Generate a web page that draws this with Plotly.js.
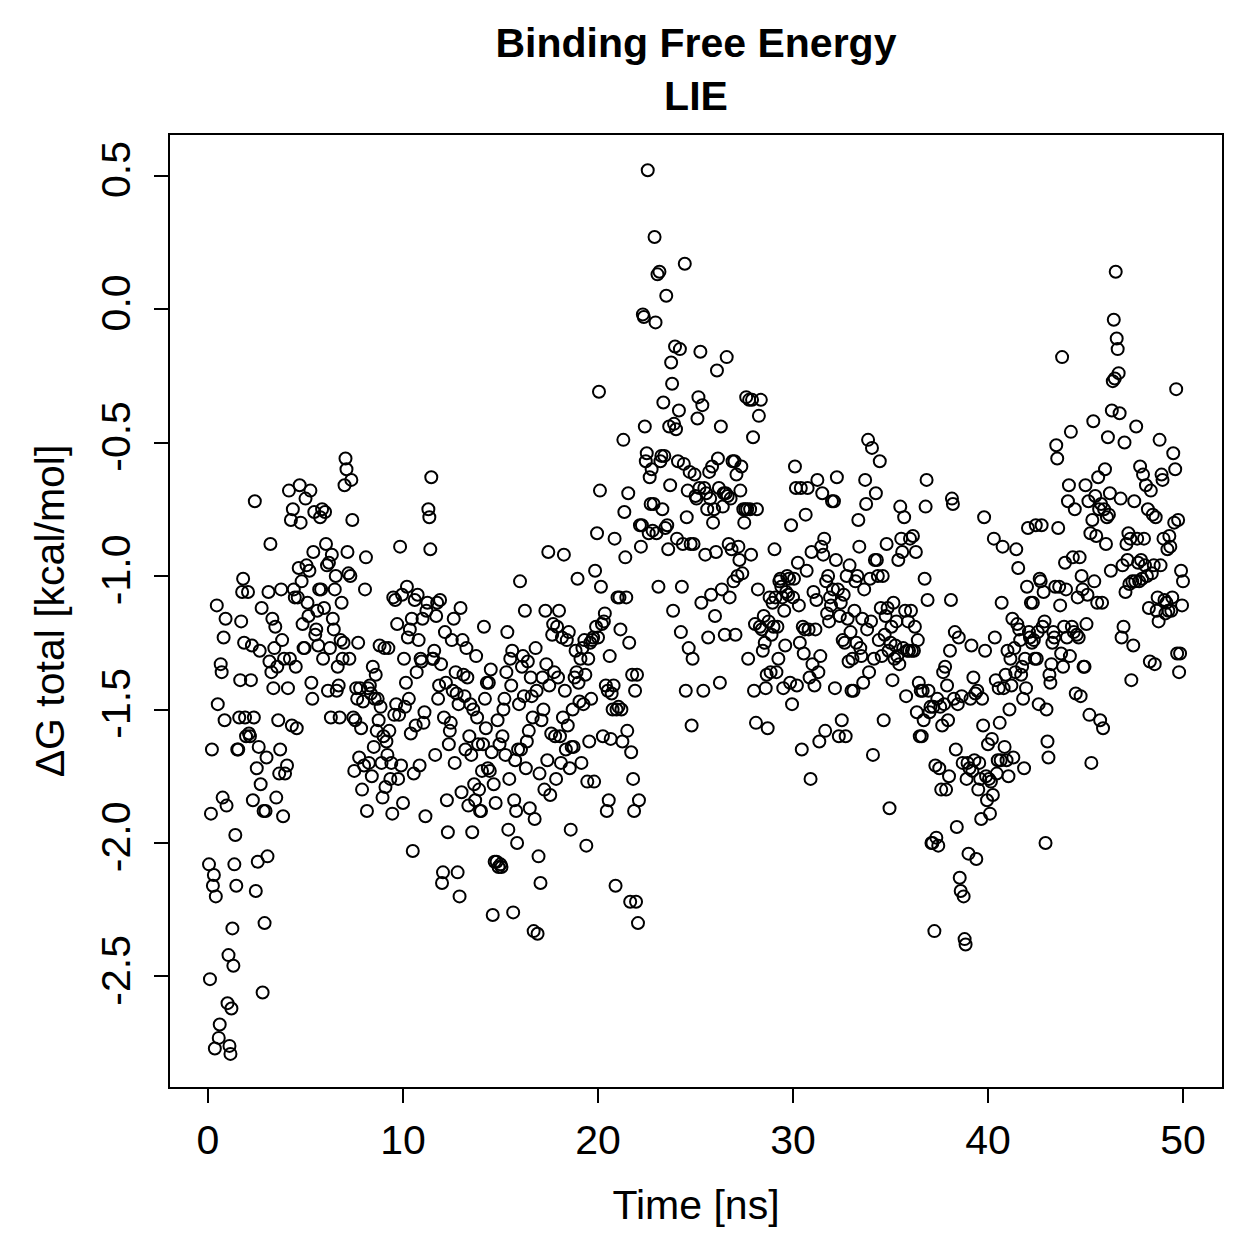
<!DOCTYPE html>
<html>
<head>
<meta charset="utf-8">
<script src="https://cdn.plot.ly/plotly-3.0.1.min.js"></script>
<style>
  html, body { margin: 0; padding: 0; background: #fff; }
  #chart { width: 1259px; height: 1259px; }
</style>
</head>
<body>
<div id="chart"></div>
<script>
// LIE binding free energy (kcal/mol) sampled every 0.05 ns, grouped in 2 ns windows
const dg_00_02 = [-2.08,-2.51,-1.89,-1.65,-2.16,-2.12,-2.77,-2.20,-1.11,-1.48,-2.73,-2.68,-1.33,-1.36,-1.83,-1.23,-1.54,-1.16,-1.86,-2.60,-2.42,-2.76,-2.79,-2.62,-2.32,-2.46,-2.08,-1.97,-2.16,-1.65,-1.65,-1.53,-1.39,-1.17,-1.06,-1.01,-1.25,-1.53,-1.60];
const dg_02_04 = [-1.06,-1.59,-1.60,-1.39,-1.26,-1.84,-1.53,-0.72,-2.18,-1.72,-2.07,-1.64,-1.28,-1.78,-1.12,-2.56,-1.88,-2.30,-1.88,-1.68,-2.05,-1.06,-1.32,-0.88,-1.36,-1.16,-1.42,-1.27,-1.19,-1.83,-1.34,-1.54,-1.74,-1.65,-1.05,-1.24,-1.90,-1.31,-1.74];
const dg_04_06 = [-1.71,-1.42,-0.68,-1.31,-0.79,-1.56,-0.75,-1.05,-1.08,-1.34,-1.57,-1.08,-0.97,-0.66,-0.80,-1.02,-1.18,-1.27,-1.27,-0.71,-0.96,-1.10,-1.15,-0.98,-0.68,-1.40,-1.46,-0.91,-0.76,-1.22,-1.20,-1.13,-1.26,-1.05,-0.78,-1.05,-0.75,-1.31,-1.12,-0.76];
const dg_06_08 = [-0.88,-0.96,-1.43,-0.95,-1.27,-1.53,-0.92,-1.16,-1.20,-1.05,-1.00,-1.43,-1.34,-1.41,-1.53,-1.24,-1.10,-1.31,-1.25,-0.66,-0.56,-0.60,-0.91,-0.99,-1.31,-1.00,-0.64,-0.79,-1.53,-1.73,-1.54,-1.42,-1.46,-1.25,-1.68,-1.42,-1.57,-1.80,-1.47,-1.71];
const dg_08_10 = [-1.05,-0.93,-1.88,-1.42,-1.70,-1.41,-1.44,-1.75,-1.34,-1.64,-1.46,-1.37,-1.58,-1.46,-1.54,-1.26,-1.49,-1.70,-1.83,-1.60,-1.27,-1.79,-1.62,-1.67,-1.27,-1.58,-1.76,-1.70,-1.89,-1.08,-1.52,-1.09,-1.48,-1.18,-1.76,-1.52,-0.89,-1.71,-1.07,-1.85];
const dg_10_12 = [-1.31,-1.49,-1.40,-1.04,-1.23,-1.46,-1.20,-1.59,-1.16,-2.03,-1.74,-1.09,-1.56,-1.36,-1.07,-1.24,-1.71,-1.31,-1.32,-1.16,-1.55,-1.51,-1.90,-1.13,-1.10,-0.75,-0.78,-0.90,-0.63,-1.31,-1.31,-1.28,-1.67,-1.15,-1.10,-1.46,-1.41,-1.09,-1.33,-2.15];
const dg_12_14 = [-2.11,-1.53,-1.21,-1.40,-1.84,-1.96,-1.63,-1.58,-1.55,-1.24,-1.43,-1.16,-1.70,-1.36,-1.44,-2.11,-1.48,-2.20,-1.12,-1.81,-1.24,-1.37,-1.45,-1.65,-1.27,-1.38,-1.86,-1.60,-1.48,-1.67,-1.96,-1.50,-1.78,-1.84,-1.30,-1.53,-1.63,-1.80,-1.88,-1.88];
const dg_14_16 = [-1.73,-1.63,-1.19,-1.46,-1.57,-1.40,-1.72,-1.40,-1.73,-1.35,-1.66,-2.27,-1.78,-2.07,-1.85,-2.07,-1.54,-2.09,-1.63,-2.08,-2.09,-1.60,-1.50,-1.46,-1.67,-1.36,-1.21,-1.95,-1.76,-1.31,-1.41,-1.28,-2.26,-1.84,-1.69,-1.88,-2.00,-1.65,-1.48,-1.02];
const dg_16_18 = [-1.65,-1.34,-1.30,-1.45,-1.13,-1.72,-1.62,-1.32,-1.58,-1.87,-1.38,-1.45,-1.53,-2.33,-1.91,-1.27,-1.43,-2.34,-2.05,-1.74,-2.15,-1.54,-1.38,-1.50,-1.80,-1.13,-1.33,-1.69,-0.91,-1.41,-1.82,-1.59,-1.22,-1.18,-1.36,-1.60,-1.76,-1.19,-1.38,-1.13];
const dg_18_20 = [-1.60,-1.70,-1.23,-1.53,-0.92,-1.43,-1.65,-1.24,-1.56,-1.21,-1.72,-1.95,-1.64,-1.50,-1.64,-1.38,-1.28,-1.36,-1.01,-1.40,-1.47,-1.31,-1.70,-1.27,-1.48,-1.24,-1.37,-2.01,-1.77,-1.31,-1.62,-1.25,-1.46,-1.24,-1.23,-1.77,-0.98,-1.19,-0.84,-1.23];
const dg_20_22 = [-0.31,-0.68,-1.04,-1.18,-1.60,-1.17,-1.14,-1.41,-1.88,-1.43,-1.84,-1.30,-1.61,-1.44,-1.50,-1.41,-0.86,-2.16,-1.50,-1.08,-1.49,-1.08,-1.20,-1.50,-1.62,-0.49,-0.76,-0.93,-1.08,-1.58,-0.69,-1.25,-2.22,-1.66,-1.37,-1.76,-1.88,-1.43,-2.22,-1.37];
const dg_22_24 = [-2.30,-1.84,-0.81,-0.89,-0.81,-0.02,-0.03,-0.44,-0.57,-0.54,0.52,-0.84,-0.63,-0.73,-0.60,-0.83,-0.73,0.27,-0.05,-0.84,0.13,-1.04,0.14,-0.57,-0.55,-0.75,-0.35,-0.55,-0.82,0.05,-0.81,-0.90,-0.44,-0.66,-0.20,-0.28,-1.13,-0.43,-0.14,-0.45];
const dg_24_26 = [-0.86,-0.57,-0.38,-0.15,-1.21,-1.04,-0.88,-0.58,0.17,-1.43,-0.78,-0.68,-1.27,-0.61,-0.88,-1.56,-1.31,-0.88,-0.62,-0.70,-0.71,-0.41,-0.33,-0.67,-0.16,-1.10,-0.36,-1.43,-0.67,-0.92,-0.69,-0.75,-1.23,-0.61,-0.71,-1.07,-0.59,-0.80,-0.75,-1.15];
const dg_26_28 = [-0.91,-0.23,-0.56,-0.67,-1.40,-0.44,-1.05,-0.74,-0.69,-1.22,-0.69,-0.18,-0.70,-0.88,-1.08,-0.71,-0.90,-0.57,-1.02,-0.57,-1.22,-0.62,-1.00,-0.89,-0.94,-0.68,-0.59,-0.99,-0.75,-0.80,-0.75,-0.33,-0.75,-1.31,-0.34,-0.75,-0.92,-0.34,-0.48,-1.43];
const dg_28_30 = [-1.18,-1.55,-0.75,-1.05,-0.40,-1.19,-0.34,-1.20,-1.28,-1.15,-1.25,-1.42,-1.37,-1.57,-1.17,-1.08,-1.36,-1.22,-1.10,-1.19,-0.90,-1.08,-1.36,-1.19,-1.31,-1.02,-1.01,-1.04,-1.08,-1.42,-1.13,-1.26,-1.06,-1.00,-1.07,-1.01,-1.40,-0.81,-1.48,-1.08];
const dg_30_32 = [-1.01,-0.59,-0.67,-1.41,-0.95,-1.11,-1.25,-0.67,-1.65,-1.19,-1.29,-1.20,-0.77,-0.98,-0.67,-1.20,-1.38,-1.76,-0.91,-1.33,-1.06,-1.41,-1.20,-1.09,-0.64,-1.36,-1.62,-1.30,-0.89,-0.69,-0.92,-0.86,-1.58,-1.02,-1.14,-1.00,-1.17,-1.08,-1.11,-0.72];
const dg_32_34 = [-1.05,-0.72,-1.42,-0.94,-0.63,-1.05,-1.60,-1.15,-1.10,-1.54,-1.24,-1.07,-1.25,-1.60,-1.00,-1.16,-1.32,-0.96,-1.21,-1.43,-1.31,-1.43,-1.13,-1.02,-1.25,-1.00,-0.79,-0.89,-1.27,-1.30,-1.16,-1.40,-1.05,-0.64,-0.73,-1.20,-0.49,-1.36,-1.01,-1.17];
const dg_34_36 = [-0.52,-1.67,-1.31,-0.94,-0.69,-0.94,-1.00,-1.24,-0.57,-1.12,-1.30,-1.00,-1.54,-1.22,-1.15,-0.88,-1.12,-1.28,-1.87,-1.25,-1.19,-1.39,-1.10,-1.31,-1.26,-1.17,-1.30,-0.94,-1.33,-0.74,-0.86,-0.91,-1.27,-0.78,-1.13,-1.45,-1.28,-1.17,-1.28,-0.86];
const dg_36_38 = [-1.13,-1.28,-0.85,-1.28,-1.19,-0.91,-1.51,-1.24,-1.40,-1.60,-1.43,-1.60,-1.43,-1.54,-1.01,-0.74,-0.64,-1.09,-1.43,-1.51,-1.49,-2.00,-2.00,-1.49,-2.33,-1.71,-1.98,-1.46,-2.01,-1.72,-1.49,-1.80,-1.56,-1.36,-1.48,-1.34,-1.80,-1.41,-1.54,-1.75];
const dg_38_40 = [-1.28,-1.09,-0.71,-0.73,-1.46,-1.21,-1.65,-1.94,-1.48,-1.23,-2.13,-2.18,-1.45,-1.70,-2.20,-2.36,-2.38,-1.76,-1.70,-2.04,-1.72,-1.46,-1.26,-1.73,-1.38,-1.69,-1.44,-2.06,-1.43,-1.80,-1.70,-1.76,-1.91,-1.46,-1.56,-0.78,-1.28,-1.75,-1.84,-1.63];
const dg_40_42 = [-1.76,-1.89,-1.77,-1.61,-1.82,-0.86,-1.23,-1.39,-1.74,-1.69,-1.42,-1.55,-1.69,-1.10,-0.89,-1.42,-1.64,-1.37,-1.69,-1.28,-1.75,-1.50,-1.31,-1.41,-1.16,-1.68,-1.27,-1.36,-0.90,-1.18,-0.97,-1.20,-1.24,-1.37,-1.34,-1.46,-1.72,-1.31,-1.42,-1.04];
const dg_42_44 = [-0.82,-1.21,-1.23,-1.10,-1.25,-1.10,-1.24,-1.31,-0.81,-1.31,-1.21,-1.48,-1.01,-1.02,-0.81,-1.19,-1.06,-1.17,-2.00,-1.50,-1.62,-1.68,-1.37,-1.40,-1.33,-1.25,-1.21,-1.23,-1.04,-0.51,-0.56,-0.82,-1.04,-1.11,-1.29,-0.18,-1.34,-1.19,-0.95,-1.05];
const dg_44_46 = [-1.23,-0.72,-0.66,-1.30,-0.46,-1.19,-0.93,-1.21,-0.75,-1.44,-1.22,-1.08,-1.23,-0.93,-1.45,-1.00,-1.05,-1.34,-1.34,-0.66,-1.18,-1.07,-0.72,-1.52,-0.84,-1.70,-0.79,-0.42,-1.02,-0.70,-0.85,-1.10,-0.63,-0.75,-1.54,-0.73,-1.10,-1.57,-0.75,-0.60];
const dg_46_48 = [-0.88,-0.78,-0.48,-0.77,-0.69,-0.98,-0.38,-0.27,-0.04,-0.26,0.14,-0.11,-0.15,-0.24,-0.39,-0.71,-1.23,-0.96,-1.19,-0.50,-1.06,-0.88,-0.94,-0.84,-1.03,-0.86,-1.39,-1.02,-1.26,-0.72,-1.02,-0.44,-0.86,-0.95,-1.02,-0.59,-0.94,-1.01,-0.62,-0.86];
const dg_48_50 = [-0.96,-0.66,-1.00,-0.75,-1.12,-1.32,-0.68,-0.99,-0.77,-0.96,-1.33,-0.78,-1.13,-1.08,-1.17,-0.49,-0.96,-0.62,-0.64,-0.86,-1.09,-1.14,-1.10,-0.90,-1.13,-0.85,-0.89,-1.13,-1.08,-0.54,-0.80,-0.60,-0.30,-1.29,-0.79,-1.36,-1.29,-0.98,-1.11,-1.02];

const windows = [dg_00_02, dg_02_04, dg_04_06, dg_06_08, dg_08_10, dg_10_12, dg_12_14,
  dg_14_16, dg_16_18, dg_18_20, dg_20_22, dg_22_24, dg_24_26, dg_26_28, dg_28_30,
  dg_30_32, dg_32_34, dg_34_36, dg_36_38, dg_38_40, dg_40_42, dg_42_44, dg_44_46,
  dg_46_48, dg_48_50];
const windowLength = 2;   // ns per window
const frameStep = 0.05;   // ns between frames

const xTicks = [0, 10, 20, 30, 40, 50];
const yTicks = [-2.5, -2.0, -1.5, -1.0, -0.5, 0.0, 0.5];
const yTickText = ['-2.5', '-2.0', '-1.5', '-1.0', '-0.5', '0.0', '0.5'];

// frame times for each window
const time = [];
const dG = [];
windows.forEach((vals, w) => {
  vals.forEach((v, k) => {
    time.push(+(w * windowLength + (k + 1) * frameStep).toFixed(2));
    dG.push(v);
  });
});

const FONT = 'Liberation Sans, Arial, Helvetica, sans-serif';

const trace = {
  x: time,
  y: dG,
  type: 'scatter',
  mode: 'markers',
  marker: {
    symbol: 'circle-open',
    size: 12,
    color: '#000',
    line: { color: '#000', width: 2 }
  },
  hoverinfo: 'x+y'
};

const axisCommon = {
  showgrid: false,
  zeroline: false,
  showline: true,
  mirror: true,
  linecolor: '#000',
  linewidth: 2,
  ticks: 'outside',
  ticklen: 14,
  tickwidth: 2,
  tickcolor: '#000',
  tickfont: { family: FONT, size: 41, color: '#000' }
};

const layout = {
  width: 1259,
  height: 1259,
  paper_bgcolor: '#fff',
  plot_bgcolor: '#fff',
  showlegend: false,
  margin: { l: 170, r: 37, t: 135, b: 172 },
  title: {
    text: '<b>Binding Free Energy</b><br><b>LIE</b>',
    font: { family: FONT, size: 41, color: '#000' },
    x: 0.5, xref: 'paper', xanchor: 'center',
    y: 1 - 57 / 1259, yref: 'container', yanchor: 'top'
  },
  xaxis: Object.assign({}, axisCommon, {
    range: [-1.95, 52.0],
    tickvals: xTicks,
    ticktext: xTicks.map(String),
    ticklabelstandoff: 2,
    title: { text: 'Time [ns]', font: { family: FONT, size: 41, color: '#000' }, standoff: 28 }
  }),
  yaxis: Object.assign({}, axisCommon, {
    range: [-2.914, 0.652],
    tickvals: yTicks,
    ticktext: yTickText,
    tickangle: -90,
    ticklabelstandoff: 8,
    title: { text: 'ΔG total [kcal/mol]', font: { family: FONT, size: 41, color: '#000' }, standoff: 15 }
  })
};

Plotly.newPlot('chart', [trace], layout, { displayModeBar: false, staticPlot: true });
</script>
</body>
</html>
